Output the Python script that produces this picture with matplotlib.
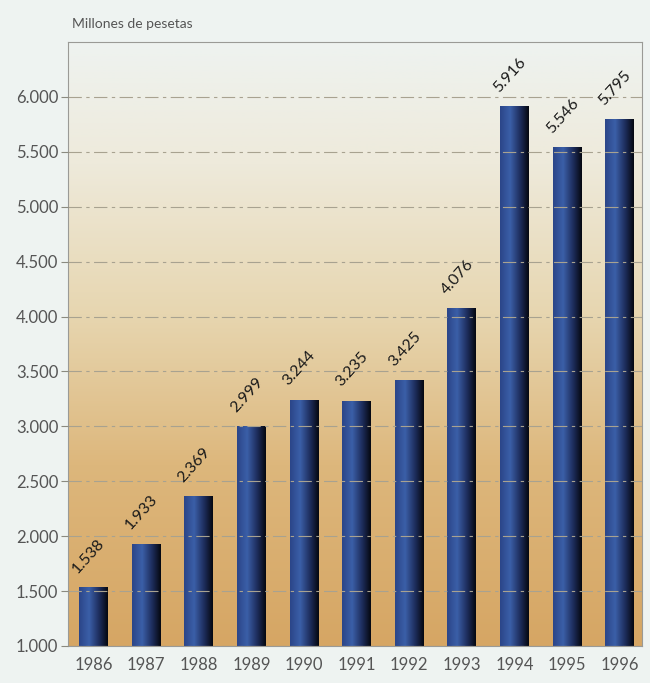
import numpy as np
import matplotlib
matplotlib.use('Agg')
import matplotlib.pyplot as plt
from matplotlib.colors import LinearSegmentedColormap

years = ['1986', '1987', '1988', '1989', '1990', '1991', '1992', '1993', '1994', '1995', '1996']
values = [1538, 1933, 2369, 2999, 3244, 3235, 3425, 4076, 5916, 5546, 5795]
value_labels = ['1.538', '1.933', '2.369', '2.999', '3.244', '3.235', '3.425', '4.076', '5.916', '5.546', '5.795']
yticks = [1000, 1500, 2000, 2500, 3000, 3500, 4000, 4500, 5000, 5500, 6000]
ytick_labels = ['1.000', '1.500', '2.000', '2.500', '3.000', '3.500', '4.000', '4.500', '5.000', '5.500', '6.000']

plt.rcParams['font.family'] = ['Lato', 'DejaVu Sans']

fig = plt.figure(figsize=(6.5, 6.83), dpi=100)
fig.patch.set_facecolor('#eef3f1')
ax = fig.add_axes([0.1046, 0.0542, 0.883, 0.8843])

x = np.arange(len(years))
width = 0.55
ax.set_xlim(-0.484, 10.42)
ax.set_ylim(1000, 6500)

# background gradient (light at top, tan at bottom)
bg_cmap = LinearSegmentedColormap.from_list('bg', [
    (0.0, '#d6a664'), (0.3, '#ddb77c'), (0.55, '#e7d6b0'),
    (0.8, '#eeeadb'), (1.0, '#eef3f0')])
grad = np.linspace(0, 1, 256).reshape(-1, 1)
ax.imshow(grad, cmap=bg_cmap, origin='lower', aspect='auto',
          extent=[-0.484, 10.42, 1000, 6500], zorder=0)

# grid
ax.set_yticks(yticks)
ax.set_yticklabels(ytick_labels)
ax.yaxis.grid(True, color='#a8a290', linewidth=0.8, dashes=(12, 4, 3, 4), zorder=1)
ax.set_axisbelow(False)

# bars with horizontal blue gradient
bar_cmap = LinearSegmentedColormap.from_list('bar', [
    (0.0, '#2b4588'), (0.35, '#3b5fa8'), (0.7, '#1d2d5c'), (1.0, '#05070f')])
hgrad = np.linspace(0, 1, 256).reshape(1, -1)
bars = ax.bar(x, [v - 1000 for v in values], width, bottom=1000,
              color='none', edgecolor='none', zorder=2)
for b in bars:
    im = ax.imshow(hgrad, cmap=bar_cmap, aspect='auto',
                   extent=[b.get_x(), b.get_x() + b.get_width(), 1000, b.get_y() + b.get_height()],
                   zorder=2)
    im.set_clip_path(b)

for xi, v, lab in zip(x, values, value_labels):
    ax.annotate(lab, (xi - width / 2, v), xytext=(1, 8), textcoords='offset points',
                rotation=48, rotation_mode='anchor', ha='left', va='bottom',
                fontsize=11.5, color='#1a1a1a', zorder=3)

ax.set_xticks(x)
ax.set_xticklabels(years)
ax.tick_params(axis='x', length=0, pad=8, labelsize=12, labelcolor='#555555')
ax.tick_params(axis='y', length=5, width=0.8, color='#8a8a80', pad=2,
               labelsize=12, labelcolor='#555555')

for s in ax.spines.values():
    s.set_color('#9a9a96')
    s.set_linewidth(0.8)

fig.text(0.11, 0.965, 'Millones de pesetas', fontsize=10, color='#555555',
         ha='left', va='center')

plt.savefig('out.png', dpi=100, facecolor=fig.get_facecolor())
